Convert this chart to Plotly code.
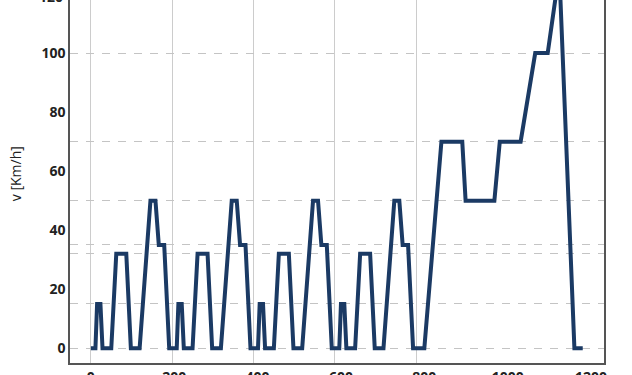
import plotly.graph_objects as go

# NEDC driving cycle: time [s] and speed [km/h] breakpoints
time_s = [0, 11, 15, 23, 28, 49, 61, 85, 96, 117, 143, 155, 163, 176, 188, 195,
          206, 210, 218, 223, 244, 256, 280, 291, 312, 338, 350, 358, 371, 383, 390,
          401, 405, 413, 418, 439, 451, 475, 486, 507, 533, 545, 553, 566, 578, 585,
          596, 600, 608, 613, 634, 646, 670, 681, 702, 728, 740, 748, 761, 773, 780,
          800, 841, 891, 899, 968, 981, 1031, 1066, 1096, 1116, 1126, 1160, 1180]
speed_kmh = [0, 0, 15, 15, 0, 0, 32, 32, 0, 0, 50, 50, 35, 35, 0, 0,
             0, 15, 15, 0, 0, 32, 32, 0, 0, 50, 50, 35, 35, 0, 0,
             0, 15, 15, 0, 0, 32, 32, 0, 0, 50, 50, 35, 35, 0, 0,
             0, 15, 15, 0, 0, 32, 32, 0, 0, 50, 50, 35, 35, 0, 0,
             0, 70, 70, 50, 50, 70, 70, 100, 100, 120, 120, 0, 0]

x_ticks = [0, 200, 400, 600, 800, 1000, 1200]
y_ticks = [0, 20, 40, 60, 80, 100, 120]
cycle_bounds = [0, 195, 390, 585, 780]
speed_levels = [0, 15, 32, 35, 50, 70, 100, 120]

Y_MIN, Y_MAX = -5, 118

fig = go.Figure()
fig.add_trace(go.Scatter(
    x=time_s, y=speed_kmh, mode="lines",
    line=dict(color="#1b3a64", width=4),
    hoverinfo="skip", showlegend=False,
))

tick_font = dict(family="Open Sans", size=14, color="#222222", weight="bold")

fig.update_layout(
    width=632, height=375,
    margin=dict(l=70, r=28, t=0, b=12),
    paper_bgcolor="white", plot_bgcolor="white",
    xaxis=dict(
        range=[-50, 1231], tickvals=x_ticks, ticktext=[str(v) for v in x_ticks],
        showgrid=False, zeroline=False, ticks="", automargin=False,
        tickfont=tick_font,
        showline=True, linecolor="#555555", linewidth=1.5, mirror=True,
        minor=dict(tickmode="array", tickvals=cycle_bounds, showgrid=True,
                   gridcolor="#cccccc", gridwidth=1, ticks=""),
    ),
    yaxis=dict(
        range=[Y_MIN, Y_MAX], tickvals=y_ticks, ticktext=[str(v) for v in y_ticks],
        showgrid=False, zeroline=False, ticks="", automargin=False,
        tickfont=tick_font,
        showline=True, linecolor="#555555", linewidth=1.5, mirror=True,
        minor=dict(tickmode="array", tickvals=speed_levels, showgrid=True,
                   gridcolor="#c4c4c4", gridwidth=1, griddash="8px,8px", ticks=""),
    ),
    annotations=[
        dict(text="120", xref="paper", yref="paper", x=0,
             y=(363 - 8) / 363, xanchor="right", yanchor="bottom",
             xshift=-5, showarrow=False, font=tick_font),
        dict(text="v [Km/h]", xref="paper", yref="paper", x=0, y=0.52,
             xanchor="center", yanchor="middle", xshift=-55, textangle=-90,
             showarrow=False,
             font=dict(family="Open Sans", size=14, color="#222222")),
    ],
)

fig.write_html("out.html")
